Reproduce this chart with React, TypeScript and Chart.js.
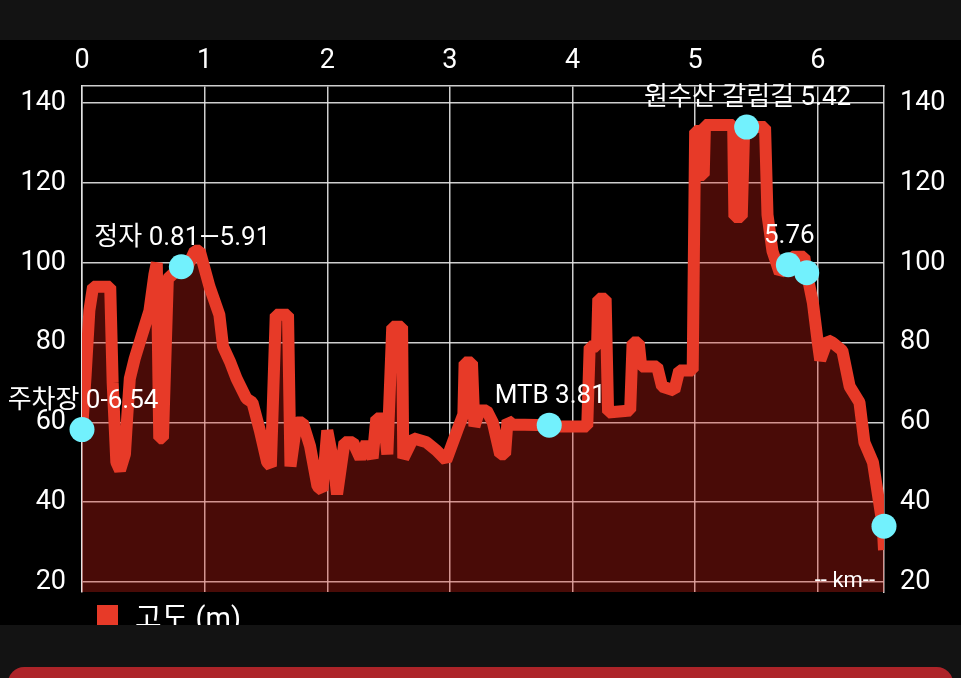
import React, { useEffect, useRef } from "react";
import { Chart, registerables } from "chart.js";
Chart.register(...registerables);

const distanceKm = [
  0.0, 0.03, 0.06, 0.09, 0.23, 0.25, 0.28, 0.31, 0.35, 0.37, 0.39, 0.43, 0.47, 0.51, 0.55, 0.59, 0.61, 0.63, 0.66, 0.7, 0.77, 0.81, 0.86, 0.92,
  0.96, 1.04, 1.12, 1.15, 1.21, 1.26, 1.34, 1.39, 1.45, 1.51, 1.54, 1.58, 1.68, 1.7, 1.75, 1.8, 1.86, 1.92, 1.96, 2.0,
  2.05, 2.08, 2.14, 2.21, 2.27, 2.32, 2.37, 2.4, 2.46, 2.49, 2.53, 2.61, 2.62, 2.7, 2.81, 2.89, 2.97, 3.06, 3.11, 3.12,
  3.18, 3.2, 3.24, 3.3, 3.35, 3.41, 3.45, 3.47, 3.51, 3.81, 3.9, 4.12, 4.14, 4.2, 4.21, 4.27, 4.29, 4.47, 4.49, 4.54,
  4.56, 4.69, 4.73, 4.83, 4.87, 4.98, 5.0, 5.03, 5.04, 5.07, 5.08, 5.31, 5.32, 5.38, 5.4, 5.57, 5.59, 5.63, 5.69, 5.76,
  5.79, 5.89, 5.91, 5.96, 6.0, 6.02, 6.08, 6.12, 6.2, 6.26, 6.34, 6.38, 6.45, 6.5, 6.53, 6.54,
];
const elevationM = [
  58, 72, 88, 94, 94, 70, 50, 48, 52, 62, 71, 76, 80, 84, 88, 97, 100, 56, 56, 96, 98, 99, 99, 103,
  103, 94, 87, 79, 75, 71, 66, 65, 58, 50, 49, 87, 87, 49, 60, 60, 54, 44, 43, 58,
  50, 42, 55, 55, 51, 55, 51, 61, 61, 52, 84, 84, 51, 56, 55, 53, 50.5, 58, 62, 75,
  75, 59, 63, 63, 60, 52, 52, 60.5, 59.5, 59.3, 59, 59, 79, 79, 91, 91, 62.5, 63, 80, 80,
  74, 74, 69, 68, 73, 73, 133, 133, 122, 122, 134.5, 134.5, 111.5, 111.5, 134, 134, 112, 103, 97.5, 99.5,
  101.5, 101.5, 97.5, 90, 80, 75.6, 80.6, 80, 78, 69, 65, 55, 50, 40, 34, 28,
];

const markerKm = [0, 0.81, 3.81, 5.42, 5.76, 5.91, 6.54];
const markerElev = [58.2, 99, 59.3, 134, 99.5, 97.5, 34];
const markerLabels = ["주차장 0-6.54", "정자 0.81—5.91", "MTB 3.81", "원수산 갈림길 5.42", "5.76", "", ""];

const xTicks = [0, 1, 2, 3, 4, 5, 6];
const yTicks = [20, 40, 60, 80, 100, 120, 140];
const seriesLabel = "고도 (m)";
const unitLabel = "-- km--";

const FONT = "Roboto, 'Noto Sans CJK KR', sans-serif";
const GRID = "rgba(228,228,228,0.9)";
const LINE = "#E73A28";
const MARKER = "#72F1FD";

const overlay = {
  id: "overlay",
  afterDatasetsDraw(chart: any) {
    const { ctx, chartArea, scales } = chart;
    const xs = scales.x;
    const ys = scales.y;
    ctx.save();
    ctx.fillStyle = "#ffffff";
    ctx.font = `26px ${FONT}`;
    ctx.textAlign = "center";
    ctx.textBaseline = "alphabetic";
    markerLabels.forEach((lab, i) => {
      if (!lab) return;
      const px = xs.getPixelForValue(markerKm[i]);
      const py = ys.getPixelForValue(markerElev[i]);
      ctx.fillText(lab, px + 1, py - 22);
    });
    ctx.font = `22px ${FONT}`;
    ctx.textAlign = "right";
    ctx.fillText(unitLabel, chartArea.right - 9, chartArea.bottom - 5);
    // legend
    ctx.fillStyle = LINE;
    ctx.fillRect(97, 565, 21, 21);
    ctx.fillStyle = "#ffffff";
    ctx.textAlign = "left";
    ctx.font = `29px ${FONT}`;
    ctx.fillText(seriesLabel, 135, 588);
    ctx.restore();
  },
};

export default function App() {
  const ref = useRef<HTMLCanvasElement | null>(null);
  useEffect(() => {
    if (!ref.current) return;
    const tickFont = { family: FONT, size: 27 };
    const chart = new Chart(ref.current, {
      type: "line",
      data: {
        datasets: [
          {
            label: "markers",
            data: markerKm.map((x, i) => ({ x, y: markerElev[i] })),
            showLine: false,
            pointRadius: 12.5,
            pointHoverRadius: 12.5,
            pointBackgroundColor: MARKER,
            pointBorderWidth: 0,
            borderWidth: 0,
            clip: false,
            order: 0,
          } as any,
          {
            label: seriesLabel,
            data: distanceKm.map((x, i) => ({ x, y: elevationM[i] })),
            borderColor: LINE,
            borderWidth: 12,
            borderJoinStyle: "bevel",
            backgroundColor: "rgba(222,34,22,0.33)",
            fill: "start",
            pointRadius: 0,
            tension: 0,
            order: 1,
          } as any,
        ],
      },
      options: {
        animation: false,
        responsive: false,
        maintainAspectRatio: false,
        events: [],
        layout: { padding: { left: 0, right: 0, top: 0, bottom: 33 } },
        plugins: { legend: { display: false }, tooltip: { enabled: false } },
        scales: {
          x: {
            type: "linear",
            position: "top",
            min: 0,
            max: 6.54,
            afterBuildTicks: (s: any) => {
              s.ticks = xTicks.map((v) => ({ value: v }));
            },
            afterFit: (s: any) => {
              s.height = 46;
            },
            grid: { color: GRID, lineWidth: 1.5, drawTicks: false },
            border: { display: true, color: GRID, width: 1.5 },
            ticks: { color: "#ffffff", font: tickFont, padding: 9, maxRotation: 0, autoSkip: false, callback: (v: any) => String(v) },
          },
          y: {
            type: "linear",
            position: "left",
            min: 17.5,
            max: 144.3,
            afterBuildTicks: (s: any) => {
              s.ticks = yTicks.map((v) => ({ value: v }));
            },
            afterFit: (s: any) => {
              s.width = 82;
            },
            grid: { color: GRID, lineWidth: 1.5, drawTicks: false },
            border: { display: true, color: GRID, width: 1.5 },
            ticks: { color: "#ffffff", font: tickFont, padding: 16, autoSkip: false, callback: (v: any) => String(v) },
          },
          y2: {
            type: "linear",
            position: "right",
            min: 17.5,
            max: 144.3,
            afterBuildTicks: (s: any) => {
              s.ticks = yTicks.map((v) => ({ value: v }));
            },
            afterFit: (s: any) => {
              s.width = 77;
            },
            grid: { display: false, drawTicks: false },
            border: { display: true, color: GRID, width: 1.5 },
            ticks: { color: "#ffffff", font: tickFont, padding: 16, autoSkip: false, callback: (v: any) => String(v) },
          },
        },
      } as any,
      plugins: [overlay],
    });
    return () => chart.destroy();
  }, []);

  return (
    <div style={{ position: "fixed", left: 0, top: 0, width: 961, height: 678, background: "#131313", overflow: "hidden" }}>
      <div style={{ position: "absolute", left: 0, top: 40, width: 961, height: 585, background: "#000" }}>
        <canvas ref={ref} width={961} height={585} style={{ width: 961, height: 585, display: "block" }} />
      </div>
      <div style={{ position: "absolute", left: 8, top: 667, width: 945, height: 40, background: "#AD2429", borderRadius: 16 }} />
    </div>
  );
}
